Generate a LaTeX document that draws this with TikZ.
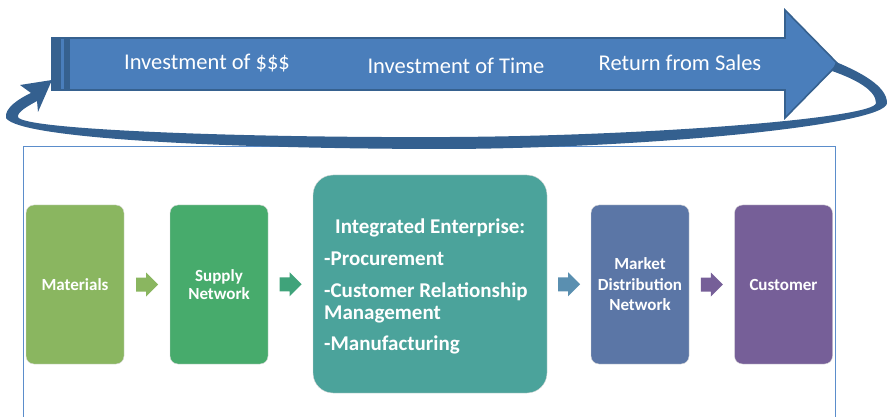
\documentclass[tikz,border=0pt]{standalone}
\usepackage{fontspec}
\setmainfont{Carlito}
\usetikzlibrary{calc}
\definecolor{arrfill}{HTML}{4A7EBB}
\definecolor{arrdark}{HTML}{36618F}
\definecolor{loopc}{HTML}{34608F}
\definecolor{framec}{HTML}{5B8DCB}
\definecolor{matc}{HTML}{8AB660}
\definecolor{supc}{HTML}{47AB6C}
\definecolor{iec}{HTML}{4BA39B}
\definecolor{mdnc}{HTML}{5B76A6}
\definecolor{cusc}{HTML}{765F98}
\definecolor{ba2}{HTML}{3FA37A}
\definecolor{ba3}{HTML}{5A8FB0}
\begin{document}
\begin{tikzpicture}[x=1pt,y=-1pt,
  box/.style={rounded corners=8pt, draw=white!70!gray, line width=0.4pt, text=white,
    font=\fontsize{17}{18}\selectfont\bfseries, align=center,
    minimum width=98pt, minimum height=159pt, inner sep=0pt},
  toptext/.style={text=white, font=\fontsize{22.5}{26}\selectfont, inner sep=0pt},
  barrow/.pic={\path[pic actions] (-11,-7) -- (-1,-7) -- (-1,-12) -- (11,0) -- (-1,12) -- (-1,7) -- (-11,7) -- cycle;}
]
\useasboundingbox (0,0) rectangle (887,417);
% frame
\draw[framec, line width=0.8pt] (23,417.5) -- (23,146.5) -- (835,146.5) -- (835,417.5);
% big striped arrow
\draw[fill=arrfill, draw=arrdark, line width=1.6pt, line join=miter]
  (52,38) -- (785,38) -- (785,10) -- (838,64) -- (785,118) -- (785,90) -- (52,90) -- cycle;
\fill[arrdark] (52,38) rectangle (60.5,90);
\fill[arrdark] (63.5,38) rectangle (70,90);
% loop arrow
\fill[loopc]
  (836,62) .. controls (860,72) and (887,86) .. (887,103)
  .. controls (887,125) and (650,148) .. (450,149)
  .. controls (250,149) and (20,140) .. (6,118)
  .. controls (4,108) and (20,98) .. (31,93)
  -- (20,85) -- (52,80) -- (38,112) -- (37,101)
  .. controls (28,106) and (17,112) .. (18,117)
  .. controls (22,130) and (250,138) .. (450,137)
  .. controls (650,136) and (876,118) .. (876,103)
  .. controls (876,90) and (855,79) .. (832,71) -- cycle;
% top texts
\node[toptext] (t1) at (207,63) {Investment of \$\$\$};
\node[toptext] (t2) at (456,66) {Investment of Time};
\node[toptext] (t3) at (680,63) {Return from Sales};
% boxes
\node[box, fill=matc] (mat) at (75,284.5) {Materials};
\node[box, fill=supc] (sup) at (219,284.5) {Supply\\Network};
\node[box, fill=iec, rounded corners=20pt, minimum width=234pt, minimum height=218pt] (ie) at (430,284) {};
\node[text=white, font=\fontsize{21}{22}\selectfont\bfseries, align=left, anchor=north west, inner sep=0pt]
  (iet) at (324,218.5) {\hspace*{11pt}Integrated Enterprise:\\[10pt]-Procurement\\[10pt]-Customer Relationship\\Management\\[9pt]-Manufacturing};
\node[box, fill=mdnc, font=\fontsize{17}{20.5}\selectfont\bfseries] (mdn) at (640,284.5) {Market\\Distribution\\Network};
\node[box, fill=cusc] (cus) at (783.5,284.5) {Customer};
% block arrows between boxes
\pic[fill=matc] at ($(mat.east)!0.5!(sup.west)$) {barrow};
\pic[fill=ba2] at ($(sup.east)!0.5!(ie.west)$) {barrow};
\pic[fill=ba3] at ($(ie.east)!0.5!(mdn.west)$) {barrow};
\pic[fill=cusc] at ($(mdn.east)!0.5!(cus.west)$) {barrow};
\end{tikzpicture}
\end{document}
